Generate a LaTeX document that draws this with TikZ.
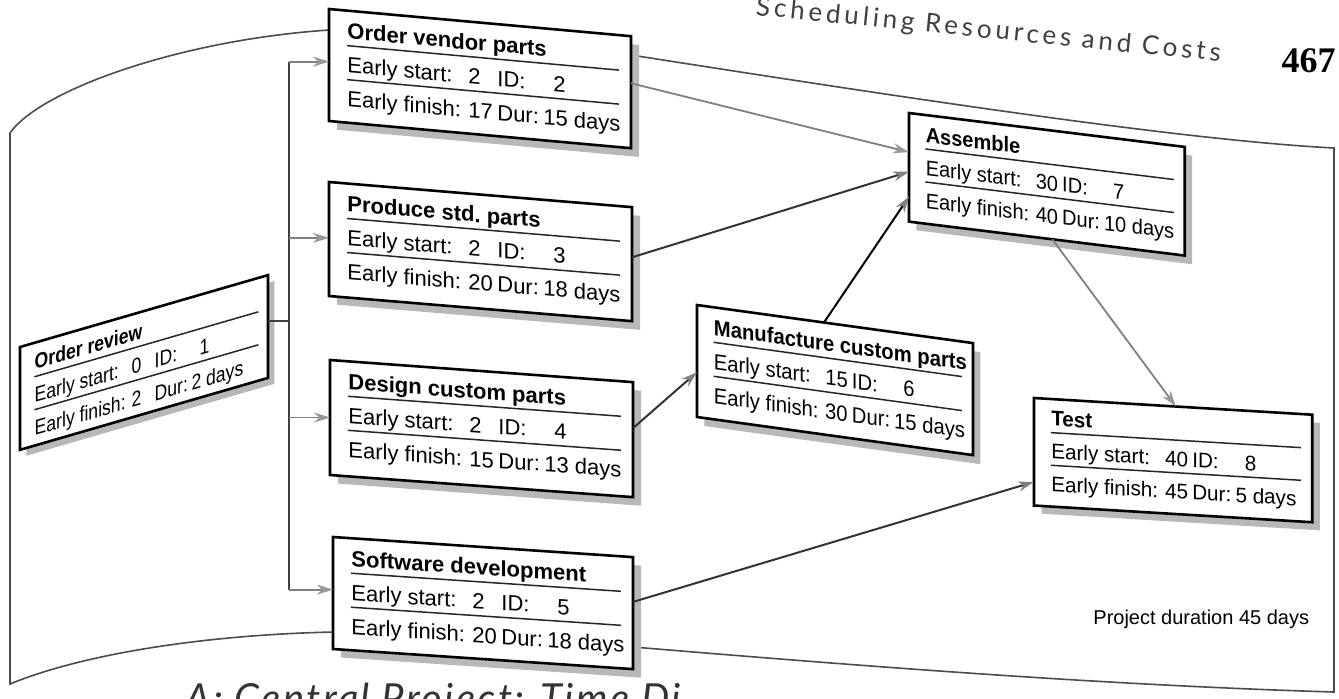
\documentclass[tikz,border=0pt]{standalone}
\usepackage{fontspec}
\setmainfont{Liberation Sans}
\newfontfamily\headfont[LetterSpace=15]{Lato}
\newfontfamily\capfont[LetterSpace=6]{Lato}
\newfontfamily\numfont{Liberation Serif}
\usetikzlibrary{arrows.meta,calc}

\tikzset{
  taskbox/.style={draw=black, line width=1.3pt, fill=white, inner sep=0pt, outer sep=0pt},
  boxshadow/.style={fill=black!28},
  sepline/.style={line width=0.75pt, draw=black!85},
  txt/.style={anchor=base west, inner sep=0pt, font=\fontsize{11}{13}\selectfont},
  ttl/.style={anchor=base west, inner sep=0pt, font=\fontsize{11}{13}\selectfont\bfseries},
  arr/.style={line width=0.9pt, draw=black!50, -{Stealth[length=8pt,width=5pt,color=black!40]}},
  darr/.style={line width=1pt, draw=black!80, -{Stealth[length=8pt,width=5pt,color=black!50]}},
  busline/.style={line width=0.9pt, draw=black!75},
  pageline/.style={line width=0.8pt, draw=black!70},
}

% #1 name, #2 width, #3 height, #4 title, #5 early start, #6 id, #7 early finish, #8 duration
\newcommand\boxcontent[8]{%
  \fill[boxshadow] (8,8) -- (#2+8,8) -- (#2+8,#3+8) -- (8,#3+8) -- cycle;
  \node[taskbox, minimum width=#2*0.5pt, minimum height=#3*0.5pt, anchor=north west] (#1) at (0,0) {};
  \node[ttl] (#1-t) at (18,28) {#4};
  \draw[sepline] (18,35) -- (#2-12,35);
  \node[txt] (#1-s) at (18,62) {\makebox[60.5pt][l]{Early start:}\makebox[14.5pt][l]{#5}\makebox[28pt][l]{ID:}#6};
  \draw[sepline] (18,69) -- (#2-12,69);
  \node[txt] (#1-f) at (18,96) {\makebox[60.5pt][l]{Early finish:}\makebox[14.5pt][l]{#7}\makebox[23pt][l]{Dur:}#8};
}

\begin{document}
\begin{tikzpicture}[x=0.5pt,y=-0.5pt]
\useasboundingbox (0,0) rectangle (1339,698);
\clip (0,0) rectangle (1339,698);
\fill[white] (0,0) rectangle (1339,698);

% page outline (book page edges)
\draw[pageline] (329,30) .. controls (180,40) and (40,90) .. (10,133) -- (10,684)
   .. controls (80,655) and (200,635) .. (333,632);
\draw[pageline] (631,55) .. controls (900,97) and (1180,140) .. (1334,148) -- (1334,692)
   .. controls (1100,685) and (850,665) .. (633,647);

% header
\node[anchor=base west, rotate=-5.7, inner sep=0pt, text=black!75,
      font=\headfont\fontsize{13}{15}\selectfont] (head) at (755,15) {Scheduling Resources and Costs};
\node[anchor=base east, inner sep=0pt, font=\numfont\bfseries\fontsize{18}{20}\selectfont] (pnum) at (1336,72) {467};

% boxes
\begin{scope}[shift={(20,347)}, yslant=0.29, xscale=0.8, yscale=0.97, transform shape]
  \boxcontent{b1}{310}{106}{Order review}{0}{1}{2}{2 days}
\end{scope}
\begin{scope}[shift={(329,9)}, yslant=-0.09, transform shape]
  \boxcontent{b2}{302}{112}{Order vendor parts}{2}{2}{17}{15 days}
\end{scope}
\begin{scope}[shift={(329,182)}, yslant=-0.083, transform shape]
  \boxcontent{b3}{303}{114}{Produce std.\ parts}{2}{3}{20}{18 days}
\end{scope}
\begin{scope}[shift={(330,360)}, yslant=-0.073, transform shape]
  \boxcontent{b4}{303}{115}{Design custom parts}{2}{4}{15}{13 days}
\end{scope}
\begin{scope}[shift={(333,537)}, yslant=-0.067, transform shape]
  \boxcontent{b5}{300}{112}{Software development}{2}{5}{20}{18 days}
\end{scope}
\begin{scope}[shift={(697,305)}, yslant=-0.138, xscale=0.92, transform shape]
  \boxcontent{b6}{300}{112}{Manufacture custom parts}{15}{6}{30}{15 days}
\end{scope}
\begin{scope}[shift={(909,113)}, yslant=-0.123, xscale=0.91, yscale=0.97, transform shape]
  \boxcontent{b7}{303}{112}{Assemble}{30}{7}{40}{10 days}
\end{scope}
\begin{scope}[shift={(1034,398)}, yslant=-0.06, xscale=0.94, yscale=0.96, transform shape]
  \boxcontent{b8}{296}{112}{Test}{40}{8}{45}{5 days}
\end{scope}

% connectors
\coordinate (bus) at (289,0);
\coordinate (o1) at ($(b1.north east)!0.45!(b1.south east)$);
\coordinate (t2) at ($(b2.north west)!0.47!(b2.south west)$);
\coordinate (t3) at ($(b3.north west)!0.49!(b3.south west)$);
\coordinate (t4) at ($(b4.north west)!0.5!(b4.south west)$);
\coordinate (t5) at ($(b5.north west)!0.47!(b5.south west)$);
\draw[busline] (o1) -- (o1 -| bus);
\draw[busline] (t2 -| bus) -- (t5 -| bus);
\foreach \i in {2,3,4,5} { \draw[arr] (t\i -| bus) -- (t\i); }

\draw[arr] ($(b2.north east)!0.42!(b2.south east)$) -- ($(b7.north west)!0.36!(b7.south west)$);
\draw[darr] ($(b3.north east)!0.44!(b3.south east)$) -- ($(b7.north west)!0.54!(b7.south west)$);
\draw[darr] ($(b4.north east)!0.4!(b4.south east)$) -- ($(b6.north west)!0.6!(b6.south west)$);
\draw[darr, draw=black] ($(b6.north west)!0.46!(b6.north east)$) -- ($(b7.north west)!0.77!(b7.south west)$);
\draw[arr] ($(b7.south west)!0.52!(b7.south east)$) -- ($(b8.north west)!0.51!(b8.north east)$);
\draw[darr] ($(b5.north east)!0.4!(b5.south east)$) -- ($(b8.north west)!0.78!(b8.south west)$);

% notes
\node[anchor=base west, inner sep=0pt, font=\fontsize{10}{12}\selectfont] (dur) at (1093,624) {Project duration 45 days};
\node[anchor=base west, inner sep=0pt, text=black!80, font=\capfont\itshape\fontsize{20}{24}\selectfont] (cap) at (185,712) {A: Central Project: Time Di};
\end{tikzpicture}
\end{document}
